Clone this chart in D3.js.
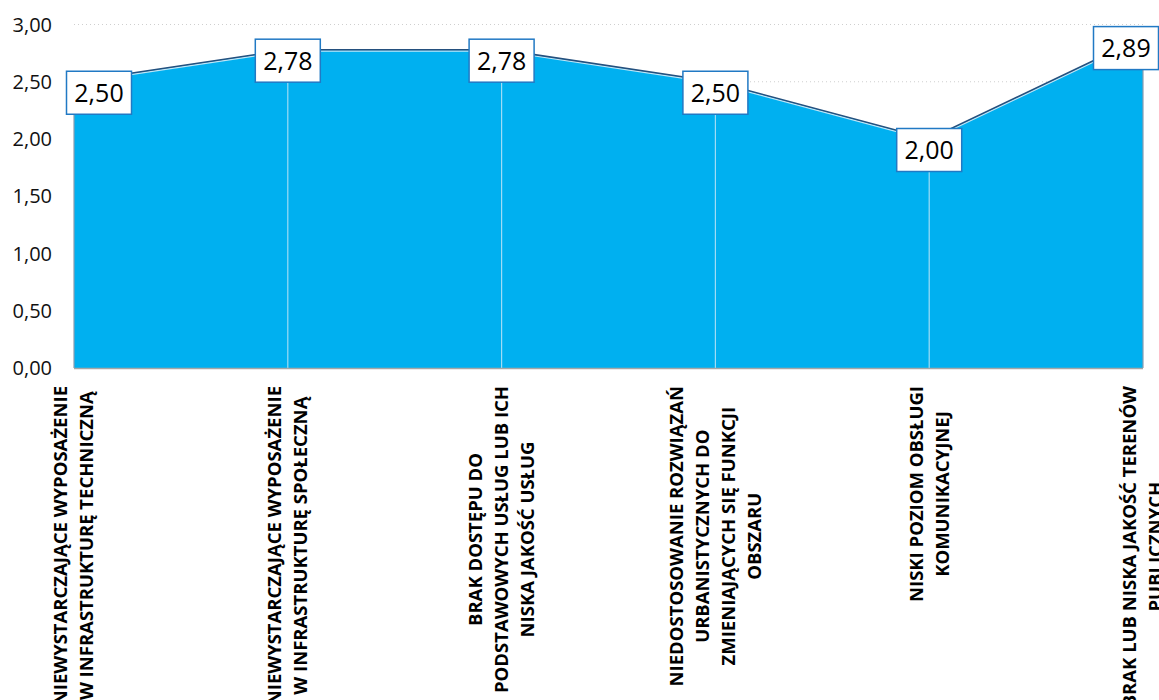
<!DOCTYPE html>
<html>
  <head>
    <meta charset="utf-8">
    <script src="https://cdn.jsdelivr.net/npm/d3@7/dist/d3.min.js"></script>
    <style>
      body { margin: 0; background: #fff; }
      text { font-family: 'Open Sans', sans-serif; }
    </style>
  </head>
  <body>
    <svg width="1159" height="700"></svg>
    <script>
      // dane z wykresu
      const categories = [
        ['NIEWYSTARCZAJĄCE WYPOSAŻENIE', 'W INFRASTRUKTURĘ TECHNICZNĄ'],
        ['NIEWYSTARCZAJĄCE WYPOSAŻENIE', 'W INFRASTRUKTURĘ SPOŁECZNĄ'],
        ['BRAK DOSTĘPU DO', 'PODSTAWOWYCH USŁUG LUB ICH', 'NISKA JAKOŚĆ USŁUG'],
        ['NIEDOSTOSOWANIE ROZWIĄZAŃ', 'URBANISTYCZNYCH DO', 'ZMIENIAJĄCYCH SIĘ FUNKCJI', 'OBSZARU'],
        ['NISKI POZIOM OBSŁUGI', 'KOMUNIKACYJNEJ'],
        ['BRAK LUB NISKA JAKOŚĆ TERENÓW', 'PUBLICZNYCH']
      ];
      const values = [2.50, 2.78, 2.78, 2.50, 2.00, 2.89];
      const yTicks = [0, 0.5, 1, 1.5, 2, 2.5, 3];

      const svg = d3.select('svg');
      const width = +svg.attr('width');
      const margin = {top: 24.5, left: 74, right: 16, bottom: 332};
      const plotBottom = 368;

      const fmt = v => d3.format('.2f')(v).replace('.', ',');

      const xScale = d3.scalePoint()
        .domain(d3.range(categories.length))
        .range([margin.left, width - margin.right]);
      const yScale = d3.scaleLinear()
        .domain([0, 3])
        .range([plotBottom, margin.top]);

      const pts = values.map((v, i) => ({i, v}));

      // linie siatki (kropkowane)
      svg.append('g').selectAll('line')
        .data(yTicks)
        .enter().append('line')
        .attr('x1', xScale.range()[0])
        .attr('x2', xScale.range()[1])
        .attr('y1', d => yScale(d))
        .attr('y2', d => yScale(d))
        .attr('stroke', '#cfcfcf')
        .attr('stroke-dasharray', '1,3');

      // obszar
      const area = d3.area()
        .x(d => xScale(d.i))
        .y0(plotBottom)
        .y1(d => yScale(d.v));
      svg.append('path')
        .datum(pts)
        .attr('d', area)
        .attr('fill', '#00B0F0');

      // linie pionowe do osi
      svg.append('g').selectAll('line')
        .data(pts.slice(1, -1))
        .enter().append('line')
        .attr('x1', d => xScale(d.i))
        .attr('x2', d => xScale(d.i))
        .attr('y1', d => yScale(d.v))
        .attr('y2', plotBottom)
        .attr('stroke', '#9fdcf5')
        .attr('stroke-width', 1.2);

      // boki obszaru
      svg.append('g').selectAll('line')
        .data([pts[0], pts[pts.length - 1]])
        .enter().append('line')
        .attr('x1', d => xScale(d.i))
        .attr('x2', d => xScale(d.i))
        .attr('y1', d => yScale(d.v))
        .attr('y2', plotBottom)
        .attr('stroke', '#8a9db0')
        .attr('stroke-width', 1.2);

      // krawędź górna
      const line = d3.line()
        .x(d => xScale(d.i))
        .y(d => yScale(d.v));
      svg.append('path')
        .datum(pts)
        .attr('d', line)
        .attr('fill', 'none')
        .attr('stroke', '#bfe6f7')
        .attr('stroke-width', 1.5)
        .attr('transform', 'translate(0,1.2)');
      svg.append('path')
        .datum(pts)
        .attr('d', line)
        .attr('fill', 'none')
        .attr('stroke', '#24507e')
        .attr('stroke-width', 1.6);

      // oś X
      svg.append('line')
        .attr('x1', xScale.range()[0])
        .attr('x2', xScale.range()[1])
        .attr('y1', plotBottom + 0.5)
        .attr('y2', plotBottom + 0.5)
        .attr('stroke', '#a6a6a6')
        .attr('stroke-width', 1.5);

      // oś Y - etykiety
      svg.append('g').selectAll('text')
        .data(yTicks)
        .enter().append('text')
        .attr('x', 52)
        .attr('y', d => yScale(d))
        .attr('dy', '0.35em')
        .attr('text-anchor', 'end')
        .attr('font-size', 20)
        .attr('fill', '#111')
        .text(fmt);

      // etykiety danych
      const boxW = 66, boxH = 43;
      const lblG = svg.append('g').selectAll('g')
        .data(pts)
        .enter().append('g')
        .attr('transform', d => {
          let cx = xScale(d.i);
          cx = Math.max(66 + boxW / 2, Math.min(width - boxW / 2, cx));
          const cy = yScale(d.v) + 11;
          return `translate(${cx},${cy})`;
        });
      lblG.append('rect')
        .attr('x', -boxW / 2 + 0.5)
        .attr('y', -boxH / 2)
        .attr('width', boxW - 1)
        .attr('height', boxH)
        .attr('fill', '#fff')
        .attr('stroke', '#2179c4')
        .attr('stroke-width', 1.5);
      lblG.append('text')
        .attr('text-anchor', 'middle')
        .attr('dy', '0.36em')
        .attr('font-size', 25)
        .attr('fill', '#000')
        .text(d => fmt(d.v));

      // etykiety kategorii (obrócone)
      const lineGap = 26;
      const catG = svg.append('g').selectAll('g')
        .data(categories)
        .enter().append('g')
        .attr('transform', (d, i) => `translate(${xScale(i)},386) rotate(-90)`);
      catG.each(function(lines) {
        const g = d3.select(this);
        const texts = g.selectAll('text')
          .data(lines)
          .enter().append('text')
          .attr('text-anchor', 'middle')
          .attr('font-size', 18.5)
          .attr('font-weight', 'bold')
          .attr('fill', '#000')
          .attr('y', (t, k) => (k - (lines.length - 1) / 2) * lineGap)
          .attr('dy', '0.35em')
          .text(t => t);
        let maxLen = 0;
        texts.each(function() { maxLen = Math.max(maxLen, this.getComputedTextLength()); });
        texts.attr('x', -maxLen / 2);
      });
    </script>
  </body>
</html>
